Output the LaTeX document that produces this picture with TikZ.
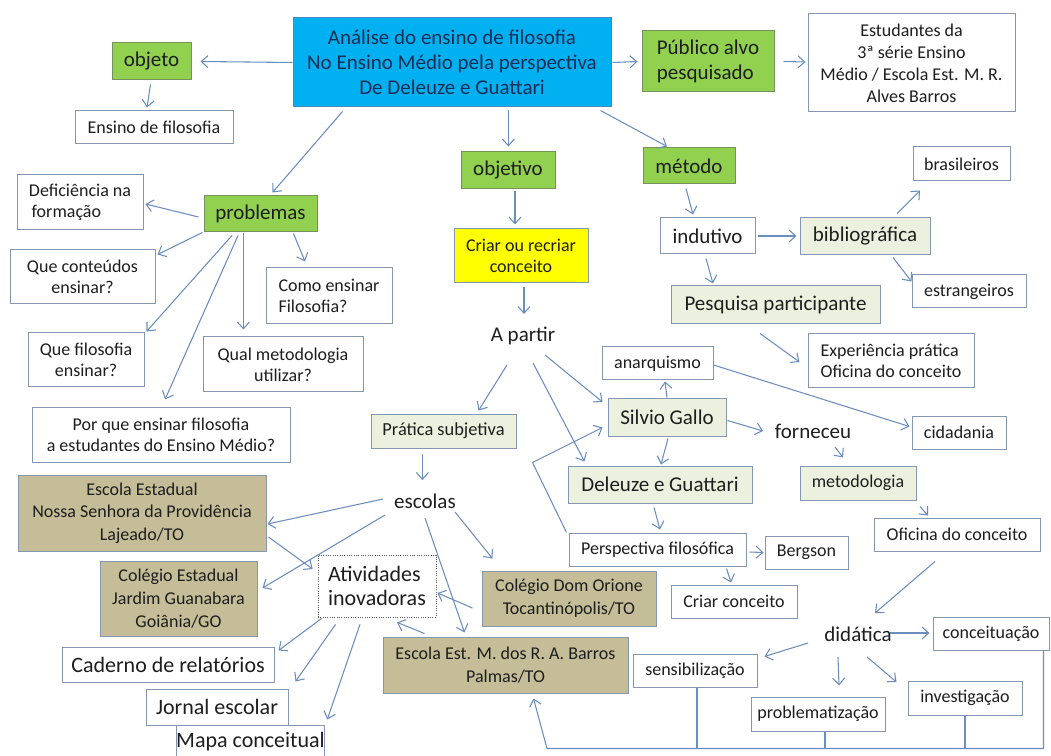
\documentclass[tikz,border=0pt]{standalone}
\usepackage{fontspec}
\setmainfont{Carlito}
\usetikzlibrary{arrows.meta,calc}
\definecolor{arrc}{RGB}{108,142,191}
\definecolor{bord}{RGB}{132,151,176}
\definecolor{grn}{RGB}{146,208,80}
\definecolor{grnb}{RGB}{118,146,92}
\definecolor{cyanf}{RGB}{0,176,240}
\definecolor{cyanb}{RGB}{65,140,190}
\definecolor{lightf}{RGB}{235,241,222}
\definecolor{tanf}{RGB}{196,189,151}
\definecolor{yel}{RGB}{255,255,0}
\definecolor{txt}{RGB}{30,30,30}
\definecolor{navy}{RGB}{25,45,85}
\definecolor{dotc}{RGB}{90,90,90}
\def\pxu{*0.75pt}
\tikzset{
  smallf/.style={font=\fontsize{13.5}{16}\selectfont},
  bigf/.style={font=\fontsize{15.75}{18.75}\selectfont},
  biggerf/.style={font=\fontsize{16.5}{17.5}\selectfont},
  box/.style={draw=bord, line width=0.75pt, fill=white, align=center, smallf},
  gbox/.style={box, fill=grn, draw=grnb, bigf},
  lbox/.style={box, fill=lightf},
  tbox/.style={box, fill=tanf, font=\fontsize{13.5}{17}\selectfont},
  txtn/.style={bigf},
  arr/.style={draw=arrc, line width=0.8pt, -{Straight Barb[length=5pt,width=9pt]}},
  ln/.style={draw=arrc, line width=0.8pt}
}
\begin{document}
\begin{tikzpicture}[x=0.75pt,y=-0.75pt, every node/.style={text=txt, inner sep=0pt}]
\fill[white] (0,0) rectangle (1051,756);
\useasboundingbox (0,0) rectangle (1051,756);

% nodes
\node[box, fill=cyanf, draw=cyanb, text=navy, font=\fontsize{15.75}{18.75}\selectfont, minimum width=318\pxu, minimum height=89\pxu] (main) at (452,62.5)
  {Análise do ensino de filosofia\\No Ensino Médio pela perspectiva\\De Deleuze e Guattari};
\node[gbox, minimum width=79\pxu, minimum height=37\pxu] (objeto) at (151.5,61.5) {objeto};
\node[box, minimum width=158\pxu, minimum height=33\pxu] (ensino) at (154,127.5) {Ensino de filosofia};
\node[gbox, minimum width=132\pxu, minimum height=61\pxu, align=left] (publico) at (708,61.5) {Público alvo\\pesquisado};
\node[box, minimum width=207\pxu, minimum height=98\pxu, font=\fontsize{13.5}{16.5}\selectfont] (estud) at (911.5,63)
  {Estudantes da\\3ª série Ensino\\Médio / Escola Est. M. R.\\Alves Barros};
\node[gbox, minimum width=113\pxu, minimum height=36\pxu] (prob) at (260.5,214) {problemas};
\node[box, minimum width=126\pxu, minimum height=55\pxu, align=left] (defic) at (80,202.5) {Deficiência na\\\hspace{2pt}formação};
\node[box, minimum width=145\pxu, minimum height=54\pxu] (quecont) at (82.5,277) {Que conteúdos\\ensinar?};
\node[box, minimum width=126\pxu, minimum height=56\pxu, align=left] (como) at (329,296) {Como ensinar\\Filosofia?};
\node[box, minimum width=116\pxu, minimum height=54\pxu] (quefil) at (86,360) {Que filosofia\\ensinar?};
\node[box, minimum width=160\pxu, minimum height=55\pxu] (qualmet) at (283,364.5) {Qual metodologia\\utilizar?};
\node[box, minimum width=258\pxu, minimum height=55\pxu] (porque) at (161,434.5) {Por que ensinar filosofia\\a estudantes do Ensino Médio?};
\node[gbox, minimum width=94\pxu, minimum height=37\pxu] (objetivo) at (508,170.5) {objetivo};
\node[box, fill=yel, minimum width=134\pxu, minimum height=54\pxu] (criar) at (521,256) {Criar ou recriar\\conceito};
\node[txtn] (apartir) at (523,336) {A partir};
\node[gbox, minimum width=92\pxu, minimum height=36\pxu] (metodo) at (689,166) {método};
\node[box, bigf, minimum width=95\pxu, minimum height=36\pxu] (indutivo) at (707.5,236) {indutivo};
\node[lbox, bigf, minimum width=130\pxu, minimum height=37\pxu] (biblio) at (865,236.5) {bibliográfica};
\node[box, minimum width=97\pxu, minimum height=34\pxu] (brasil) at (961.5,164) {brasileiros};
\node[box, minimum width=114\pxu, minimum height=33\pxu] (estrang) at (969,291.5) {estrangeiros};
\node[lbox, bigf, minimum width=209\pxu, minimum height=38\pxu] (pesq) at (775.5,305) {Pesquisa participante};
\node[box, minimum width=166\pxu, minimum height=54\pxu, align=left] (exper) at (891,361) {Experiência prática\\Oficina do conceito};
\node[box, minimum width=111\pxu, minimum height=33\pxu] (anarq) at (657.5,363.5) {anarquismo};
\node[lbox, bigf, minimum width=118\pxu, minimum height=37\pxu] (silvio) at (667,417.5) {Silvio Gallo};
\node[txtn] (forneceu) at (813,431) {forneceu};
\node[box, minimum width=94\pxu, minimum height=33\pxu] (cidad) at (959,432.5) {cidadania};
\node[lbox, bigf, minimum width=184\pxu, minimum height=37\pxu] (deleuze) at (660,484.5) {Deleuze e Guattari};
\node[lbox, minimum width=116\pxu, minimum height=34\pxu] (metodol) at (858,483) {metodologia};
\node[box, minimum width=177\pxu, minimum height=33\pxu] (persp) at (657.5,549.5) {Perspectiva filosófica};
\node[box, minimum width=83\pxu, minimum height=33\pxu] (bergson) at (806.5,552.5) {Bergson};
\node[box, minimum width=126\pxu, minimum height=33\pxu] (criarconc) at (734,601.5) {Criar conceito};
\node[box, minimum width=166\pxu, minimum height=33\pxu] (oficina) at (957,534.5) {Oficina do conceito};
\node[lbox, font=\fontsize{13.8}{16}\selectfont, minimum width=145\pxu, minimum height=34\pxu] (pratica) at (443.5,431) {Prática subjetiva};
\node[txtn] (escolas) at (425,501) {escolas};
\node[tbox, minimum width=248\pxu, minimum height=76\pxu] (nsprov) at (142,513) {Escola Estadual\\Nossa Senhora da Providência\\Lajeado/TO};
\node[tbox, minimum width=157\pxu, minimum height=75\pxu] (jardim) at (178.5,598.5) {Colégio Estadual\\Jardim Guanabara\\Goiânia/GO};
\node[box, draw=dotc, densely dotted, line width=0.6pt, minimum width=118\pxu, minimum height=62\pxu, align=left, biggerf] (ativ) at (377,586) {Atividades\\inovadoras};
\node[tbox, minimum width=174\pxu, minimum height=55\pxu] (orione) at (569,598.5) {Colégio Dom Orione\\Tocantinópolis/TO};
\node[tbox, minimum width=245\pxu, minimum height=56\pxu] (barros) at (505.5,665) {Escola Est. M. dos R. A. Barros\\Palmas/TO};
\node[box, biggerf, minimum width=212\pxu, minimum height=35\pxu] (caderno) at (168,664.5) {Caderno de relatórios};
\node[box, biggerf, minimum width=142\pxu, minimum height=36\pxu] (jornal) at (217,707) {Jornal escolar};
\node[box, biggerf, minimum width=141\pxu, minimum height=34\pxu] (mapa) at (250.5,742) {Mapa conceitual};
\node[txtn] (didat) at (858,634) {didática};
\node[box, minimum width=116\pxu, minimum height=33\pxu] (conceit) at (991,633.5) {conceituação};
\node[box, minimum width=124\pxu, minimum height=33\pxu] (sensib) at (695,670.5) {sensibilização};
\node[box, minimum width=134\pxu, minimum height=34\pxu] (problemat) at (818,714) {problematização};
\node[box, minimum width=114\pxu, minimum height=34\pxu] (invest) at (965,698) {investigação};

% connectors
\draw[arr] (main.west) -- ($(objeto.east)+(9,0)$);
\draw[arr] ($(objeto.south)+(-1,4)$) -- ($(ensino.north)+(-7,-3)$);
\draw[arr] ($(main.east)+(1,0)$) -- ($(publico.west)+(-4,0)$);
\draw[arr] ($(publico.east)+(9,0)$) -- ($(estud.west)+(-2,-1)$);
\draw[arr] ($(main.south west)+(50,4)$) -- ($(prob.north)+(12,-3)$);
\draw[arr] ($(main.south)+(56.4,3)$) -- ($(objetivo.north)+(0.4,-5)$);
\draw[arr] ($(main.south east)+(-11,3)$) -- ($(metodo.north)+(-22,-1)$);
\draw[arr] ($(prob.west)+(-5,3)$) -- ($(defic.east)+(2,1.5)$);
\draw[arr] ($(prob.south west)+(-1,0)$) -- ($(quecont.north east)+(2,5)$);
\draw[arr] ($(prob.south east)+(-24,1)$) -- ($(como.north)+(-24,-6)$);
\draw[arr] ($(prob.south)+(-17.1,1)$) -- ($(qualmet.north)+(-39.6,-7)$);
\draw[arr] ($(prob.south)+(-28.5,3)$) -- ($(quefil.north east)+(2,-1)$);
\draw[arr] ($(prob.south)+(-22.5,3)$) -- ($(porque.north)+(4,-7)$);
\draw[arr] ($(objetivo.south)+(7,2)$) -- ($(criar.north)+(-6,-4)$);
\draw[arr] ($(criar.south)+(3,4)$) -- ($(apartir.center)+(1,-22)$);
\draw[arr] ($(metodo.south)+(-3,4)$) -- ($(indutivo.north)+(-14.5,-3)$);
\draw[arr] ($(indutivo.east)+(2,0)$) -- ($(biblio.west)+(-3,-0.5)$);
\draw[arr] ($(biblio.north)+(32,-4)$) -- ($(brasil.south)+(-41.5,9)$);
\draw[arr] ($(biblio.south)+(28,2)$) -- ($(estrang.west)+(0,-10)$);
\draw[arr] ($(indutivo.south)+(-1.5,4)$) -- ($(pesq.north)+(-62.5,-2)$);
\draw[arr] ($(pesq.south)+(-15.5,9)$) -- ($(exper.west)+(-8,1)$);
\draw[arr] ($(apartir.center)+(-16,29)$) -- ($(pratica.north east)+(-38,-3)$);
\draw[arr] ($(apartir.center)+(10,27)$) -- ($(deleuze.north west)+(17,-4)$);
\draw[arr] ($(apartir.center)+(22,19)$) -- ($(silvio.west)+(-5,-15.5)$);
\draw[arr] ($(silvio.north)+(0,-1)$) -- ($(anarq.south)+(7.5,1)$);
\draw[arr] ($(anarq.east)+(0,1.5)$) -- ($(cidad.west)+(-2,-6)$);
\draw[arr] ($(silvio.east)+(1,3)$) -- ($(forneceu.center)+(-50,0)$);
\draw[arr] ($(silvio.south)+(1,2)$) -- ($(deleuze.north)+(1,-1)$);
\draw[arr] ($(forneceu.center)+(22,16)$) -- ($(metodol.north)+(-15,-8)$);
\draw[arr] ($(metodol.south)+(62,6)$) -- ($(oficina.north)+(-29,-2)$);
\draw[arr] ($(deleuze.south)+(-6,4)$) -- ($(persp.north)+(2.5,-3)$);
\draw[arr] ($(persp.east)+(3,2.5)$) -- ($(bergson.west)+(-1,0)$);
\draw[arr] ($(persp.south east)+(-20,2)$) -- ($(criarconc.north)+(-3,-2)$);
\coordinate (pcorner) at ($(persp.north west)+(-36,-70)$);
\draw[arr] ($(persp.north west)+(-2,0)$) -- (pcorner) -- ($(silvio.west)+(-5,10)$);
\draw[arr] ($(oficina.south)+(-22,10)$) -- ($(didat.center)+(17,-21)$);
\draw[arr] ($(didat.center)+(32,-1)$) -- ($(conceit.west)+(-3,-0.5)$);
\draw[arr] ($(didat.center)+(-50,9)$) -- ($(sensib.north east)+(7,3)$);
\draw[arr] ($(didat.center)+(-20,23)$) -- ($(problemat.north)+(21,-11)$);
\draw[arr] ($(didat.center)+(9,23)$) -- ($(invest.west)+(-11,-16)$);
\draw[arr] ($(pratica.south)+(-21.1,5)$) -- ($(escolas.center)+(-2.6,-21)$);
\draw[arr] ($(escolas.center)+(-42,-2)$) -- ($(nsprov.east)+(1,11)$);
\draw[arr] ($(escolas.center)+(-40,14)$) -- ($(jardim.east)+(5,-10.5)$);
\draw[arr] ($(nsprov.east)+(2,24)$) -- ($(ativ.west)+(-5,-17)$);
\draw[arr] ($(escolas.center)+(30,11)$) -- ($(orione.north west)+(11,-12)$);
\draw[arr] ($(escolas.center)+(0,17)$) -- ($(barros.north west)+(82,-4)$);
\draw[arr] ($(orione.west)+(-9,9.5)$) -- ($(ativ.east)+(1,7)$);
\draw[arr] ($(barros.north west)+(42,-3)$) -- ($(ativ.south)+(20,5)$);
\draw[arr] ($(ativ.south west)+(4,1)$) -- ($(caderno.north east)+(4,4)$);
\draw[arr] ($(ativ.south west)+(18,7)$) -- ($(jornal.north east)+(7,-7)$);
\draw[arr] ($(ativ.south)+(-17,7)$) -- ($(mapa.north east)+(2,-5)$);
% bottom bracket
\coordinate (bL) at ($(barros.south)+(41.5,55)$);
\draw[ln] ($(sensib.south)+(2,0)$) -- ++(0,61);
\draw[ln] ($(problemat.south)+(7,0)$) -- ++(0,17);
\draw[ln] (invest.south) -- ++(0,33);
\draw[arr] ($(conceit.south east)+(-6,0)$) |- (bL) -- ($(barros.south)+(28,5)$);
\end{tikzpicture}
\end{document}
